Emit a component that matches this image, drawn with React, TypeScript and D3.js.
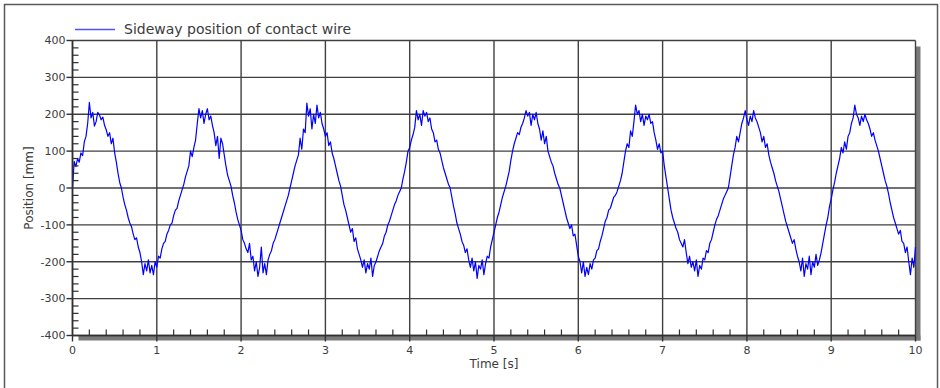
import React, { useEffect, useRef } from "react";
import * as d3 from "d3";

const timeStep = 0.02;
const positions = [
  0, 72, 58, 80, 70, 95, 88, 125, 140, 175, 232, 190, 205, 168, 180, 205, 198, 185, 192, 170,
  158, 140, 150, 120, 135, 95, 70, 40, 15, 0, -25, -45, -60, -80, -95, -105, -125, -140, -135, -160,
  -175, -200, -235, -205, -225, -195, -230, -210, -235, -200, -215, -185, -190, -165, -150, -145, -125, -115, -100, -95,
  -75, -60, -55, -35, -20, -5, 10, 30, 45, 60, 100, 85, 110, 130, 175, 215, 190, 210, 175, 200,
  215, 185, 195, 170, 150, 115, 140, 80, 135, 120, 90, 60, 35, 20, 5, -20, -40, -65, -85, -100,
  -115, -140, -150, -165, -175, -150, -195, -185, -225, -200, -240, -215, -160, -230, -205, -235, -195, -180, -170, -150,
  -140, -125, -110, -95, -80, -65, -50, -35, -20, 0, 20, 40, 60, 75, 90, 135, 105, 160, 150, 230,
  195, 215, 160, 200, 175, 225, 190, 205, 175, 160, 140, 150, 115, 125, 95, 80, 60, 40, 20, 5,
  -20, -45, -60, -80, -100, -120, -110, -145, -135, -165, -180, -195, -215, -195, -230, -205, -220, -190, -240, -210,
  -200, -185, -170, -160, -150, -130, -120, -100, -90, -75, -60, -45, -35, -20, -10, 0, 25, 45, 70, 100,
  110, 130, 145, 165, 210, 185, 200, 170, 210, 195, 205, 180, 190, 160, 150, 125, 130, 105, 95, 75,
  55, 40, 25, 10, 0, -25, -50, -70, -95, -110, -125, -145, -155, -175, -165, -195, -215, -190, -225, -200,
  -245, -210, -220, -195, -235, -205, -185, -190, -160, -140, -120, -100, -80, -65, -45, -25, -10, 5, 25, 45,
  75, 100, 120, 135, 150, 145, 165, 175, 190, 210, 195, 205, 170, 200, 185, 205, 175, 160, 130, 155,
  120, 140, 100, 85, 70, 60, 40, 25, 10, 0, -20, -40, -60, -80, -95, -110, -100, -130, -125, -155,
  -185, -200, -230, -200, -240, -215, -235, -205, -220, -195, -190, -170, -165, -145, -130, -110, -90, -80, -60, -55,
  -40, -25, -20, -10, 5, 20, 40, 70, 100, 120, 110, 155, 140, 180, 225, 200, 210, 180, 200, 170,
  195, 185, 200, 175, 180, 150, 130, 105, 120, 95, 100, 60, 30, 0, -30, -60, -80, -95, -110, -120,
  -140, -150, -160, -140, -175, -205, -185, -215, -200, -225, -195, -240, -210, -220, -190, -195, -170, -175, -150, -140,
  -120, -100, -85, -75, -60, -45, -30, -20, -10, 0, 30, 60, 90, 110, 140, 125, 150, 175, 190, 210,
  185, 170, 195, 180, 210, 190, 180, 165, 150, 125, 140, 110, 120, 90, 70, 55, 40, 20, 5, -10,
  -30, -50, -70, -90, -105, -120, -135, -150, -140, -165, -185, -200, -225, -190, -240, -205, -220, -185, -235, -200,
  -215, -180, -210, -195, -175, -150, -125, -100, -80, -50, -30, -5, 15, 40, 60, 80, 110, 95, 125, 105,
  140, 150, 175, 190, 225, 200, 190, 170, 195, 180, 200, 185, 175, 160, 140, 150, 130, 115, 100, 80,
  60, 40, 20, 5, -15, -40, -60, -80, -95, -110, -125, -115, -145, -150, -175, -160, -200, -235, -190, -215,
  -160,
];
const xTicks = [0, 1, 2, 3, 4, 5, 6, 7, 8, 9, 10];
const yTicks = [-400, -300, -200, -100, 0, 100, 200, 300, 400];
const legendLabel = "Sideway position of contact wire";
const xLabel = "Time [s]";
const yLabel = "Position [mm]";

const App = () => {
  const svgRef = useRef<SVGSVGElement>(null);

  useEffect(() => {
    const svg = d3.select(svgRef.current);
    svg.selectAll("*").remove();

    const font = "DejaVu Sans, Verdana, sans-serif";
    const ink = "#3c3c3c";
    const x = d3.scaleLinear().domain([0, 10]).range([72.5, 915.5]);
    const y = d3.scaleLinear().domain([-400, 400]).range([335.5, 40.5]);
    const [x0, x1] = x.range();
    const [y0, y1] = y.range();

    // outer frame
    svg
      .append("rect")
      .attr("x", 4.5)
      .attr("y", 4.5)
      .attr("width", 933)
      .attr("height", 400)
      .attr("fill", "white")
      .attr("stroke", "#5a5a5a")
      .attr("stroke-width", 1.5);

    // drop shadow of the plot box
    svg
      .append("rect")
      .attr("x", x1)
      .attr("y", y1 + 6)
      .attr("width", 5)
      .attr("height", y0 - y1 - 1)
      .attr("fill", "#7a7a7a");
    svg
      .append("rect")
      .attr("x", x0 + 6)
      .attr("y", y0)
      .attr("width", x1 - x0 - 1)
      .attr("height", 5)
      .attr("fill", "#7a7a7a");

    // grid
    svg
      .append("g")
      .selectAll("line")
      .data(xTicks)
      .join("line")
      .attr("x1", (d) => x(d))
      .attr("x2", (d) => x(d))
      .attr("y1", y1)
      .attr("y2", y0)
      .attr("stroke", "#404040")
      .attr("stroke-width", 1.4);
    svg
      .append("g")
      .selectAll("line")
      .data(yTicks)
      .join("line")
      .attr("x1", x0)
      .attr("x2", x1)
      .attr("y1", (d) => y(d))
      .attr("y2", (d) => y(d))
      .attr("stroke", "#404040")
      .attr("stroke-width", 1.4);

    // series
    const line = d3
      .line<number>()
      .x((d, i) => x(i * timeStep))
      .y((d) => y(d));
    svg
      .append("path")
      .datum(positions)
      .attr("d", line)
      .attr("fill", "none")
      .attr("stroke", "#0000ff")
      .attr("stroke-width", 1.2)
      .attr("stroke-linejoin", "round");

    // axes lines
    svg
      .append("line")
      .attr("x1", x0)
      .attr("x2", x0)
      .attr("y1", y1)
      .attr("y2", y0)
      .attr("stroke", "#303030")
      .attr("stroke-width", 1.6);
    svg
      .append("line")
      .attr("x1", x0)
      .attr("x2", x1)
      .attr("y1", y0)
      .attr("y2", y0)
      .attr("stroke", "#303030")
      .attr("stroke-width", 1.6);

    // minor ticks
    const xMinor = d3.range(0, 10, 0.2).filter((v) => Math.abs(v - Math.round(v)) > 0.01);
    svg
      .append("g")
      .selectAll("line")
      .data(xMinor)
      .join("line")
      .attr("x1", (d) => x(d))
      .attr("x2", (d) => x(d))
      .attr("y1", y0)
      .attr("y2", y0 - 6)
      .attr("stroke", "#303030")
      .attr("stroke-width", 1.2);
    const yMinor = d3.range(-400, 400, 20).filter((v) => v % 100 !== 0);
    svg
      .append("g")
      .selectAll("line")
      .data(yMinor)
      .join("line")
      .attr("x1", x0)
      .attr("x2", x0 + 6)
      .attr("y1", (d) => y(d))
      .attr("y2", (d) => y(d))
      .attr("stroke", "#303030")
      .attr("stroke-width", 1.2);

    // major ticks
    svg
      .append("g")
      .selectAll("line")
      .data(xTicks)
      .join("line")
      .attr("x1", (d) => x(d))
      .attr("x2", (d) => x(d))
      .attr("y1", y0)
      .attr("y2", y0 + 6)
      .attr("stroke", "#303030")
      .attr("stroke-width", 1.4);
    svg
      .append("g")
      .selectAll("line")
      .data(yTicks)
      .join("line")
      .attr("x1", x0 - 6)
      .attr("x2", x0)
      .attr("y1", (d) => y(d))
      .attr("y2", (d) => y(d))
      .attr("stroke", "#303030")
      .attr("stroke-width", 1.4);

    // tick labels
    svg
      .append("g")
      .selectAll("text")
      .data(xTicks)
      .join("text")
      .attr("x", (d) => x(d))
      .attr("y", y0 + 18)
      .attr("text-anchor", "middle")
      .attr("font-family", font)
      .attr("font-size", 11)
      .attr("fill", ink)
      .text((d) => d);
    svg
      .append("g")
      .selectAll("text")
      .data(yTicks)
      .join("text")
      .attr("x", x0 - 7)
      .attr("y", (d) => y(d))
      .attr("dy", "0.35em")
      .attr("text-anchor", "end")
      .attr("font-family", font)
      .attr("font-size", 11)
      .attr("fill", ink)
      .text((d) => d);

    // axis titles
    svg
      .append("text")
      .attr("x", (x0 + x1) / 2)
      .attr("y", 368)
      .attr("text-anchor", "middle")
      .attr("font-family", font)
      .attr("font-size", 12)
      .attr("fill", ink)
      .text(xLabel);
    svg
      .append("text")
      .attr("transform", `translate(33,${(y0 + y1) / 2}) rotate(-90)`)
      .attr("text-anchor", "middle")
      .attr("font-family", font)
      .attr("font-size", 12)
      .attr("fill", ink)
      .text(yLabel);

    // legend
    svg
      .append("line")
      .attr("x1", 75)
      .attr("x2", 115)
      .attr("y1", 29.5)
      .attr("y2", 29.5)
      .attr("stroke", "#5050ff")
      .attr("stroke-width", 1.5);
    svg
      .append("text")
      .attr("x", 124)
      .attr("y", 29.5)
      .attr("dy", "0.35em")
      .attr("font-family", font)
      .attr("font-size", 14)
      .attr("fill", ink)
      .text(legendLabel);
  }, []);

  return (
    <svg
      ref={svgRef}
      width={940}
      height={388}
      style={{ position: "absolute", left: 0, top: 0, background: "white", display: "block" }}
    />
  );
};

export default App;
